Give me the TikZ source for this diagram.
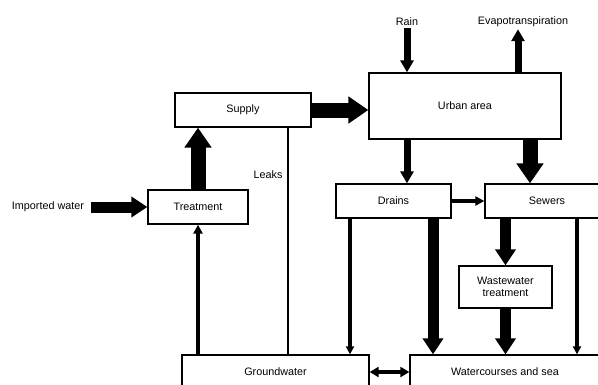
\documentclass[tikz,border=0pt]{standalone}
\usepackage{fontspec}
\setmainfont{Liberation Sans}
\usetikzlibrary{arrows.meta}
\tikzset{
	box/.style={draw, line width=1.3pt, minimum height=34pt, inner sep=0pt, font=\fontsize{10.8}{12}\selectfont},
	lbl/.style={inner sep=2pt, font=\fontsize{10.8}{12}\selectfont},
	hugeflow/.style={line width=15pt, -{Triangle[length=20pt,width=26pt]}},
	bigflow/.style={line width=11pt, -{Triangle[length=16pt,width=20pt]}},
	smallflow/.style={line width=7pt, -{Triangle[length=12pt,width=13pt]}},
	thinflow/.style={line width=4pt, -{Triangle[length=9pt,width=9pt]}},
	pipe/.style={line width=3.5pt, -{Triangle[length=8pt,width=8pt]}},
	leak/.style={line width=1.3pt},
}
\begin{document}
\begin{tikzpicture}[x=1pt, y=-1pt]
	\useasboundingbox (0,0) rectangle (598,384);

	\node[box, minimum width=136pt] (supply) at (243,110) {Supply};
	\node[box, minimum width=192pt, minimum height=66pt] (urban) at (465,106) {Urban area};
	\node[box, minimum width=100pt] (treat) at (198,207) {Treatment};
	\node[box, minimum width=115pt] (drains) at (393.5,201) {Drains};
	\node[box, minimum width=124pt] (sewers) at (547,201) {Sewers};
	\node[box, minimum width=93pt, minimum height=42pt, align=center] (wwt) at (505.5,287) {Wastewater\\treatment};
	\node[box, minimum width=187pt] (ground) at (275.5,372) {Groundwater};
	\node[box, minimum width=190pt] (water) at (505,372) {Watercourses and sea};

	\node[lbl] (rain) at (407,22) {Rain};
	\node[lbl] (evap) at (523,22) {Evapotranspiration};
	\node[lbl] (imp) at (48,207) {Imported water};
	\node[lbl] (leaks) at (268,175) {Leaks};

	\coordinate (evapx) at (518,0);
	\coordinate (leakx) at (288,0);
	\coordinate (drainx) at (407,0);
	\coordinate (sewerx) at (530,0);
	\coordinate (dleft) at (350,0);
	\coordinate (dright) at (433,0);
	\coordinate (sright) at (577,0);

	\draw[hugeflow] (treat.north) -- (treat.north |- supply.south);
	\draw[hugeflow] (supply.east) -- (supply.east -| urban.west);
	\draw[bigflow, shorten <=5pt] (imp.east) -- (treat.west);
	\draw[thinflow] (treat.south |- ground.north) -- (treat.south);
	\draw[leak] (leakx |- supply.south) -- (leakx |- ground.north);

	\draw[smallflow] (rain.south) -- (rain.south |- urban.north);
	\draw[smallflow] (evapx |- urban.north) -- (evapx |- evap.south);
	\draw[smallflow] (drainx |- urban.south) -- (drainx |- drains.north);
	\draw[hugeflow] (sewerx |- urban.south) -- (sewerx |- sewers.north);
	\draw[thinflow] (drains.east) -- (sewers.west);

	\draw[pipe] (dleft |- drains.south) -- (dleft |- ground.north);
	\draw[bigflow] (dright |- drains.south) -- (dright |- water.north);
	\draw[bigflow] (wwt.north |- sewers.south) -- (wwt.north);
	\draw[bigflow] (wwt.south) -- (wwt.south |- water.north);
	\draw[pipe] (sright |- sewers.south) -- (sright |- water.north);
	\draw[thinflow, {Triangle[length=9pt,width=10pt]}-{Triangle[length=9pt,width=10pt]}] (ground.east) -- (water.west);
\end{tikzpicture}
\end{document}
